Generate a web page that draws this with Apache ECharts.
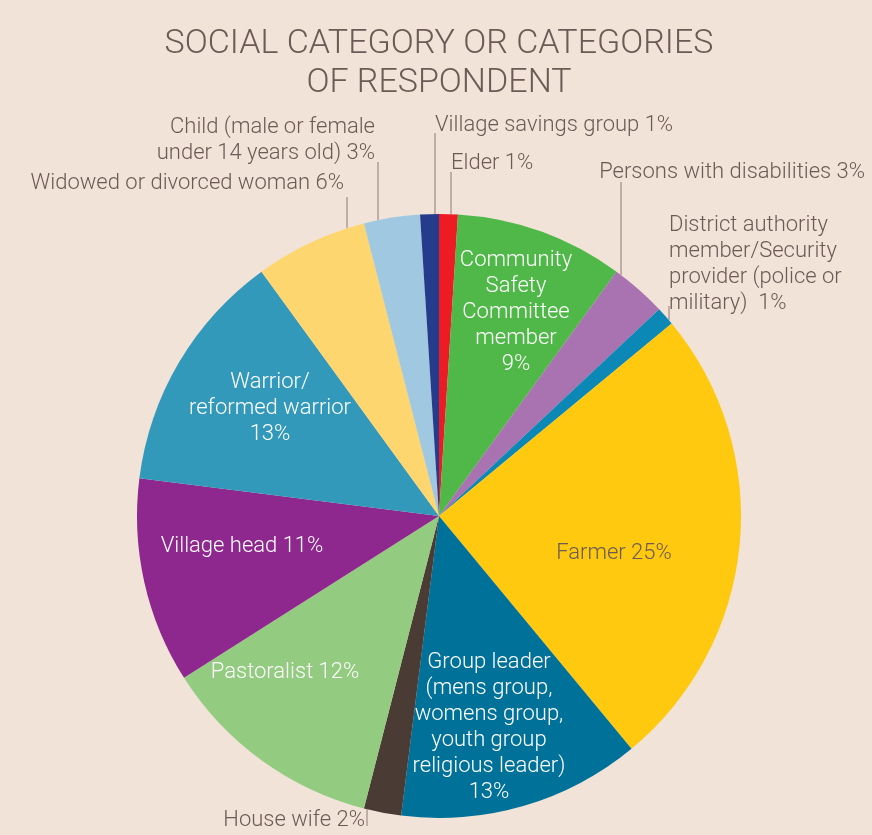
<!DOCTYPE html>
<html><head><meta charset="utf-8">
<script src="https://cdn.jsdelivr.net/npm/echarts@6/dist/echarts.min.js"></script>
<style>html,body{margin:0;padding:0;background:#f1e3d7;}#c{width:872px;height:835px;}</style>
</head><body><div id="c"></div>
<script>
// ---- data ----
const categories = [
  'Elder',
  'Community Safety Committee member',
  'Persons with disabilities',
  'District authority member/Security provider (police or military)',
  'Farmer',
  'Group leader (mens group, womens group, youth group religious leader)',
  'House wife',
  'Pastoralist',
  'Village head',
  'Warrior/reformed warrior',
  'Widowed or divorced woman',
  'Child (male or female under 14 years old)',
  'Village savings group'
];
const values = [1, 9, 3, 1, 25, 13, 2, 12, 11, 13, 6, 3, 1];
const labelTexts = [
  'Elder 1%',
  'Community\nSafety\nCommittee\nmember\n9%',
  'Persons with disabilities 3%',
  'District authority\nmember/Security\nprovider (police or\nmilitary)  1%',
  'Farmer 25%',
  'Group leader\n(mens group,\nwomens group,\nyouth group\nreligious leader)\n13%',
  'House wife 2%',
  'Pastoralist 12%',
  'Village head 11%',
  'Warrior/\nreformed warrior\n13%',
  'Widowed or divorced woman 6%',
  'Child (male or female\nunder 14 years old) 3%',
  'Village savings group 1%'
];
const titleLines = ['SOCIAL CATEGORY OR CATEGORIES', 'OF RESPONDENT'];

// ---- styles / layout ----
const colors = ['#ed1c24','#50b848','#a972b0','#0b88b5','#fec90e','#007199','#4a3c35','#93cb80','#8e278e','#3399bb','#fdd66f','#a0c8e0','#253c8d'];
const CX = 439, CY = 516, R = 302;
const FONT = 'Roboto';
const TEXT = '#6b5a55';
const layout = [
  {out:true, x:451, y:163, align:'left', lx:451, ly:172},
  {x:516, y:312, color:'#fff'},
  {out:true, x:865, y:172, align:'right', lx:621, ly:182},
  {out:true, x:669, y:264, align:'left', lx:669, ly:306},
  {x:614, y:553, color:TEXT},
  {x:489, y:727, color:'#fff'},
  {out:true, x:365, y:820, align:'right', lx:367, ly:826},
  {x:285, y:672, color:'#fff'},
  {x:242, y:546, color:'#fff'},
  {x:270, y:408, color:'#fff'},
  {out:true, x:344, y:183, align:'right', lx:347, ly:197},
  {out:true, x:375, y:140, align:'right', lx:378, ly:162},
  {out:true, x:435, y:125, align:'left', lx:435, ly:133}
];

const chart = echarts.init(document.getElementById('c'));
const data = categories.map((n, i) => ({
  name: n,
  value: values[i],
  itemStyle: {color: colors[i]},
  label: {
    formatter: labelTexts[i],
    color: layout[i].out ? TEXT : layout[i].color,
    align: layout[i].out ? layout[i].align : 'center'
  },
  labelLine: {show: !!layout[i].out}
}));

chart.setOption({
  backgroundColor: '#f1e3d7',
  animation: false,
  title: {
    text: titleLines.join('\n'),
    left: 434, top: 20, textAlign: 'center',
    textStyle: {fontFamily: FONT, fontWeight: 300, fontSize: 34, lineHeight: 39, color: TEXT}
  },
  series: [{
    type: 'pie',
    center: [CX, CY],
    radius: R,
    startAngle: 90,
    clockwise: true,
    avoidLabelOverlap: false,
    minShowLabelAngle: 0,
    itemStyle: {borderWidth: 0},
    emphasis: {disabled: true},
    label: {
      show: true,
      position: 'outside',
      fontFamily: FONT, fontWeight: 300, fontSize: 22, lineHeight: 26
    },
    labelLine: {show: true, lineStyle: {color: '#8d7b73', width: 1}},
    labelLayout: function (p) {
      const L = layout[p.dataIndex];
      const res = {x: L.x, y: L.y, align: L.out ? L.align : 'center', verticalAlign: 'middle'};
      if (L.out) {
        const dx = L.lx - CX;
        const edgeY = (L.ly > CY) ? CY + Math.sqrt(R*R - dx*dx) : CY - Math.sqrt(R*R - dx*dx);
        res.labelLinePoints = [[L.lx, edgeY], [L.lx, L.ly], [L.lx, L.ly]];
      }
      return res;
    },
    data: data
  }]
});
</script></body></html>
